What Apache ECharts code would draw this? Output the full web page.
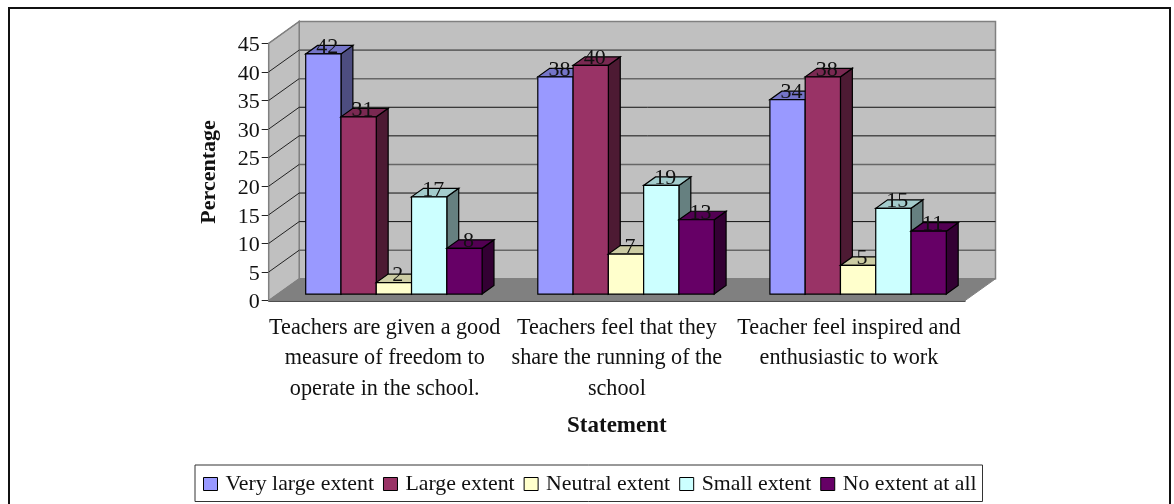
<!DOCTYPE html>
<html><head><meta charset="utf-8">
<style>html,body{margin:0;padding:0;background:#fff}#c{width:1174px;height:504px}</style>
<script src="https://cdn.jsdelivr.net/npm/echarts@6/dist/echarts.min.js"></script>
</head><body><div id="c"></div>
<script>
const categories = ["Teachers are given a good\nmeasure of freedom to\noperate in the school.","Teachers feel that they\nshare the running of the\nschool","Teacher feel inspired and\nenthusiastic to work"];
const veryLarge = [42,38,34];
const large = [31,40,38];
const neutral = [2,7,5];
const small = [17,19,15];
const noExtent = [8,13,11];
const seriesNames = ["Very large extent","Large extent","Neutral extent","Small extent","No extent at all"];
const seriesValues = [veryLarge,large,neutral,small,noExtent];
const yTicks = [0,5,10,15,20,25,30,35,40,45];
const darkLines = [10,15,25,30];
const FACE = ["#9999FF","#993366","#FFFFCC","#CCFFFF","#660066"];
const TOP = ["#7575C8","#7A2952","#CCCCA3","#A3CCCC","#520052"];
const SIDE = ["#4D4D80","#4D1A33","#808066","#668080","#330033"];
const DX = 30.5, DY = -21.8;
const FONT = '"Liberation Serif","Times New Roman",serif';
const FS = 22;

function poly(points, fill, stroke, lw){
  return {type:'polygon',shape:{points},style:{fill,stroke:stroke||null,lineWidth:lw||0}};
}
function wallsItem(params, api){
  const c = params.coordSys;
  const x0=c.x, x1=c.x+c.width, y0=api.coord([0,0])[1], yT=api.coord([0,45])[1];
  const kids=[];
  const G='#808080';
  kids.push(poly([[x0+DX,y0+DY],[x1+DX,y0+DY],[x1+DX,yT+DY],[x0+DX,yT+DY]],'#C0C0C0',G,1.5));
  kids.push(poly([[x0,y0],[x0+DX,y0+DY],[x0+DX,yT+DY],[x0,yT]],'#C0C0C0',G,1.5));
  kids.push(poly([[x0,y0],[x1,y0],[x1+DX,y0+DY],[x0+DX,y0+DY]],'#808080',G,1));
  yTicks.forEach(v=>{
    if(v===0) return;
    const y=api.coord([0,v])[1];
    const dark=darkLines.indexOf(v)>=0;
    if(v!==45) kids.push({type:'line',shape:{x1:x0+DX,y1:y+DY,x2:x1+DX,y2:y+DY},style:{stroke:dark?'#111':'#666',lineWidth:dark?1:1.6}});
    kids.push({type:'line',shape:{x1:x0,y1:y,x2:x0+DX,y2:y+DY},style:{stroke:v===45?G:'#222',lineWidth:1}});
  });
  return {type:'group',children:kids};
}
function barItem(si){
  return function(params, api){
    const cat=api.value(0), val=api.value(1);
    const p0=api.coord([cat,0]), p1=api.coord([cat,val]);
    const band=api.size([1,0])[0];
    const bw=band*0.152;
    const left=p0[0]-2.5*bw+si*bw+DX*0.3, right=left+bw;
    const by=p0[1]+DY*0.3, ty=p1[1]+DY*0.3;
    const ox=DX*0.39, oy=DY*0.39;
    const k='#000';
    return {type:'group',children:[
      poly([[right,by],[right+ox,by+oy],[right+ox,ty+oy],[right,ty]],SIDE[si],k,1.2),
      poly([[left,ty],[right,ty],[right+ox,ty+oy],[left+ox,ty+oy]],TOP[si],k,1.2),
      poly([[left,by],[right,by],[right,ty],[left,ty]],FACE[si],k,1.2)
    ]};
  };
}
function labelItem(params, api){
  const cat=api.value(0), val=api.value(1), si=api.value(2);
  const p0=api.coord([cat,0]), p1=api.coord([cat,val]);
  const band=api.size([1,0])[0], bw=band*0.152;
  const cx=p0[0]-2.5*bw+si*bw+DX*0.3+bw/2+DX*0.13;
  const cy=p1[1]+DY*0.3+DY*0.39+1.5;
  return {type:'text',style:{text:String(val),x:cx,y:cy,align:'center',verticalAlign:'middle',font:FS+'px '+FONT,fill:'#111'}};
}
const series=[{type:'custom',name:'walls',renderItem:wallsItem,data:[[0,0]],silent:true,z:1,clip:false,encode:{x:0,y:1}}];
seriesNames.forEach((n,si)=>{
  series.push({type:'custom',name:n,renderItem:barItem(si),z:2+si,clip:false,
    itemStyle:{color:FACE[si]},encode:{x:0,y:1},
    data:seriesValues[si].map((v,i)=>[i,v])});
});
const labelData=[];
seriesValues.forEach((arr,si)=>arr.forEach((v,i)=>labelData.push([i,v,si])));
series.push({type:'custom',name:'labels',renderItem:labelItem,z:20,clip:false,encode:{x:0,y:1},data:labelData});

const chart=echarts.init(document.getElementById('c'),null,{renderer:'canvas'});
chart.setOption({
  animation:false,
  backgroundColor:'#fff',
  textStyle:{fontFamily:FONT},
  graphic:[{type:'rect',silent:true,z:-1,shape:{x:9,y:8,width:1161,height:500},style:{fill:'none',stroke:'#111',lineWidth:2}}],
  grid:{left:268.7,top:43.3,width:696.3,height:257.3,containLabel:false},
  legend:{
    left:195,top:465,padding:[8,6,6.5,8],itemGap:9,itemWidth:14,itemHeight:13,
    data:seriesNames.map(name=>({name,icon:'rect'})),
    itemStyle:{borderColor:'#000',borderWidth:1},
    textStyle:{fontFamily:FONT,fontSize:21.8,color:'#111',padding:[0,0,0,3]},
    borderColor:'#333',borderWidth:1,backgroundColor:'#fff',selectedMode:false
  },
  xAxis:{type:'category',data:categories,boundaryGap:true,name:'Statement',nameLocation:'middle',nameGap:114,
    nameTextStyle:{fontFamily:FONT,fontSize:23,fontWeight:'bold',color:'#111'},
    axisLine:{lineStyle:{color:'#111',width:1.5}},
    axisTick:{alignWithLabel:false,length:6,lineStyle:{color:'#555'}},
    axisLabel:{interval:0,fontFamily:FONT,fontSize:22.2,color:'#111',lineHeight:30.5,margin:12},
    splitLine:{show:false}},
  yAxis:{type:'value',min:0,max:45,interval:5,name:'Percentage',nameLocation:'middle',nameRotate:90,nameGap:48,
    nameTextStyle:{fontFamily:FONT,fontSize:22,fontWeight:'bold',color:'#111'},
    axisLine:{show:true,lineStyle:{color:'#222',width:1}},
    axisTick:{show:true,length:7,lineStyle:{color:'#222'}},
    axisLabel:{margin:9,formatter:'{t|{value}}',rich:{t:{fontFamily:FONT,fontSize:FS,color:'#111',padding:[4,0,0,0]}}},
    splitLine:{show:false}},
  series
});
</script></body></html>
